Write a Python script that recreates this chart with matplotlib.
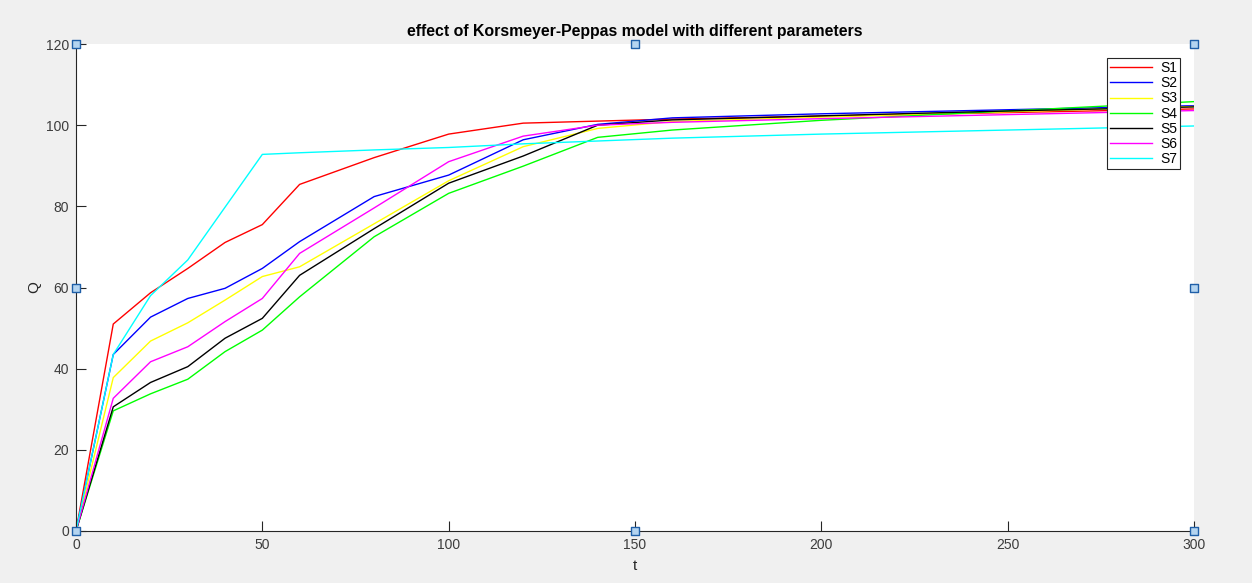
import matplotlib
matplotlib.use("Agg")
import matplotlib.pyplot as plt

t = [0, 10, 20, 30, 40, 50, 60, 80, 100, 120, 140, 160, 200, 250, 300]
S1 = [0, 51.0, 58.7, 64.7, 71.1, 75.5, 85.4, 92.0, 97.8, 100.5, 101.0, 101.5, 102.2, 103.1, 104.0]
S2 = [0, 43.5, 52.7, 57.3, 59.8, 64.7, 71.3, 82.4, 87.7, 96.4, 100.2, 101.8, 102.8, 103.8, 104.8]
S3 = [0, 37.8, 46.8, 51.3, 56.9, 62.7, 65.1, 75.7, 86.3, 94.7, 99.2, 100.9, 102.0, 103.3, 104.6]
S4 = [0, 29.6, 33.8, 37.4, 44.2, 49.5, 57.7, 72.5, 83.2, 89.9, 97.0, 98.8, 101.2, 103.5, 105.8]
S5 = [0, 30.6, 36.6, 40.5, 47.5, 52.4, 63.0, 74.5, 85.7, 92.4, 100.0, 101.3, 102.3, 103.5, 104.5]
S6 = [0, 32.7, 41.7, 45.4, 51.6, 57.3, 68.4, 79.6, 91.0, 97.3, 100.0, 100.7, 101.6, 102.6, 103.6]
S7 = [0, 43.5, 58.0, 66.8, 79.8, 92.8, 93.2, 93.9, 94.5, 95.4, 96.1, 96.8, 97.8, 98.8, 99.8]

series = [S1, S2, S3, S4, S5, S6, S7]
labels = ["S1", "S2", "S3", "S4", "S5", "S6", "S7"]
colors = ["#ff0000", "#0000ff", "#ffff00", "#00ff00", "#000000", "#ff00ff", "#00ffff"]

xticks = [0, 50, 100, 150, 200, 250, 300]
yticks = [0, 20, 40, 60, 80, 100, 120]

plt.rcParams['font.family'] = ['Liberation Sans', 'DejaVu Sans']

fig = plt.figure(figsize=(12.52, 5.83), dpi=100, facecolor='#f0f0f0')
ax = fig.add_axes([76/1252, 52/583, 1118/1252, 487/583])
ax.set_facecolor('white')

for s, lab, c in zip(series, labels, colors):
    ax.plot(t, s, color=c, lw=1.0, label=lab)

ax.set_xlim(0, 300)
ax.set_ylim(0, 120)
ax.set_xticks(xticks)
ax.set_yticks(yticks)
for side in ['top', 'right']:
    ax.spines[side].set_visible(False)
for side in ['left', 'bottom']:
    ax.spines[side].set_color('#262626')
    ax.spines[side].set_linewidth(0.8)
ax.tick_params(direction='in', length=7.5, width=0.8, colors='#262626',
               labelsize=10, labelcolor='#3c3c3c', pad=5)

ax.set_title("effect of Korsmeyer-Peppas model with different parameters",
             fontsize=11.4, fontweight='bold', pad=6)
ax.set_xlabel("t", fontsize=11, color='#262626', labelpad=5)
ax.set_ylabel("Q", fontsize=11, color='#262626', labelpad=3)

leg = ax.legend(loc='upper right', bbox_to_anchor=(0.9875, 0.971), fontsize=10,
                frameon=True, fancybox=False, framealpha=1, edgecolor='#262626',
                handlelength=3.0, handletextpad=0.6, labelspacing=0.08,
                borderpad=0.22, borderaxespad=0)
leg.get_frame().set_linewidth(0.8)

# selection handles
hx = [0, 0.5, 1, 0, 1, 0, 0.5, 1]
hy = [1, 1, 1, 0.5, 0.5, 0, 0, 0]
ax.scatter(hx, hy, marker='s', s=30, facecolor='#b4d4f0', edgecolor='#1f5fa8',
           linewidth=1.0, transform=ax.transAxes, clip_on=False, zorder=10)

fig.savefig("out.png", dpi=100, facecolor=fig.get_facecolor())
